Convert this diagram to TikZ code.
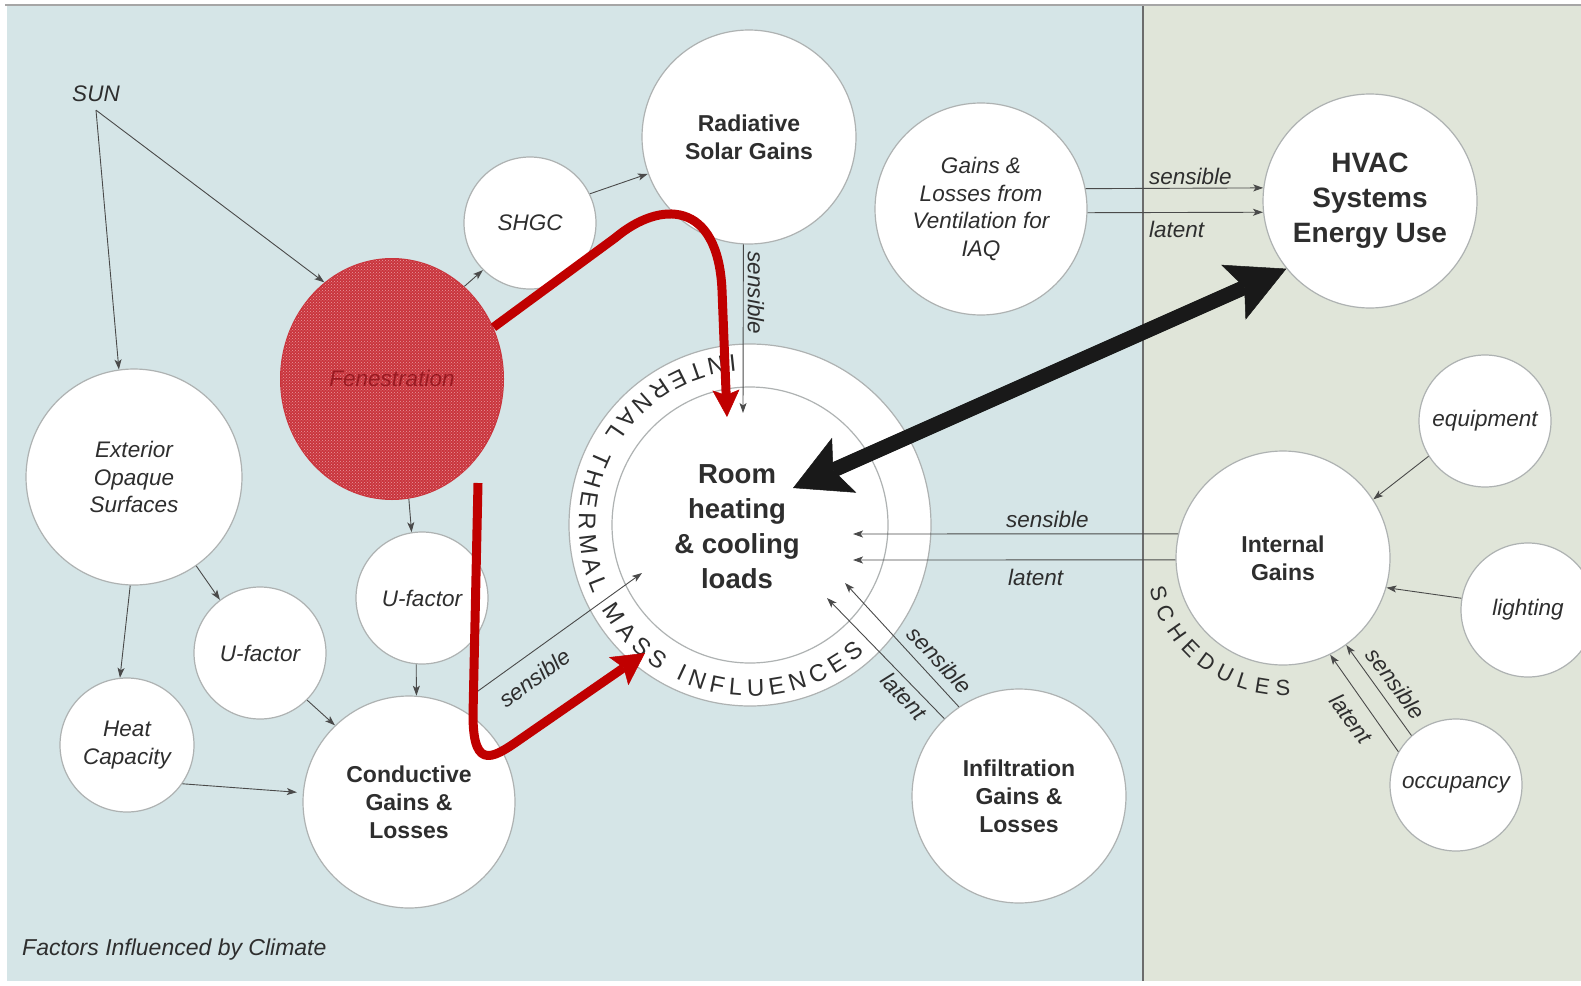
\documentclass[tikz,border=0pt]{standalone}
\usepackage{fontspec}
\setmainfont{Liberation Sans}
\usetikzlibrary{arrows.meta,shapes.geometric,patterns,decorations.text,calc}
\definecolor{bgL}{HTML}{D5E5E7}
\definecolor{bgR}{HTML}{E0E5D9}
\definecolor{txt}{HTML}{2E2E2E}
\definecolor{ln}{HTML}{4A4A4A}
\definecolor{cedge}{HTML}{AEB2B2}
\definecolor{redA}{HTML}{C00000}
\definecolor{fenfill}{HTML}{C9343C}
\definecolor{fendot}{HTML}{E99AA0}
\definecolor{fentext}{HTML}{9A1A22}
\begin{document}
\begin{tikzpicture}[x=1pt,y=1pt,
  circ/.style={circle, draw=cedge, line width=1.2pt, fill=white, inner sep=0pt, align=center, text=txt},
  it/.style={font=\fontsize{22.5}{27.5}\selectfont\itshape},
  bf/.style={font=\fontsize{23}{28}\selectfont\bfseries},
  big/.style={font=\fontsize{28}{35}\selectfont\bfseries},
  lbl/.style={text=txt, font=\fontsize{22.5}{26}\selectfont\itshape, inner sep=0pt},
  conn/.style={draw=ln, line width=0.9pt, -{Stealth[length=10pt,width=7pt,inset=2.5pt]}},
  redarrow/.style={draw=redA, line width=9pt, line join=round},
]
\useasboundingbox (0,0) rectangle (1581,-985);
\fill[white] (0,0) rectangle (1581,-985);
\fill[bgL] (7,-6) rectangle (1143,-981);
\fill[bgR] (1143,-6) rectangle (1581,-981);
\draw[gray!70, line width=2pt] (5,-5) -- (1581,-5);
\draw[gray!85!black, line width=1.5pt] (1143,-6) -- (1143,-981);

% ring
\node[circ, minimum size=362pt] (ring) at (750,-525) {};
\node[circle, draw=cedge, line width=1.2pt, minimum size=276pt, inner sep=0pt] (room) at (750,-525) {};
\node[text=txt, align=center, font=\fontsize{27.5}{35}\selectfont\bfseries] (roomtxt) at (737,-527) {Room\\heating\\\& cooling\\loads};
\path[decorate, decoration={text along path, text={|\fontsize{24}{24}\selectfont\color{txt}|INTERNAL THERMAL MASS INFLUENCES}, text align={fit to path}}]
  (ring.center) ++(95:171pt) arc[start angle=95, end angle=312, radius=171pt];

% circles
\node[circ, minimum size=214pt, bf] (rad) at (749,-137) {Radiative\\Solar Gains};
\node[circ, minimum size=132pt, it] (shgc) at (530,-223) {SHGC};
\node[circ, minimum size=212pt, it] (vent) at (981,-209) {Gains \&\\Losses from\\Ventilation for\\IAQ};
\node[circ, minimum size=214pt, big] (hvac) at (1370,-201) {HVAC\\Systems\\Energy Use};
\node[circ, minimum size=216pt, it] (ext) at (134,-477) {Exterior\\Opaque\\Surfaces};
\node[circ, minimum size=134pt, it] (heat) at (127,-745) {Heat\\Capacity};
\node[circ, minimum size=132pt, it] (uL) at (260,-653) {U-factor};
\node[circ, minimum size=132pt, it] (uR) at (422,-598) {U-factor};
\node[circ, minimum size=212pt, bf] (cond) at (409,-802) {Conductive\\Gains \&\\Losses};
\node[circ, minimum size=214pt, bf] (inf) at (1019,-796) {Infiltration\\Gains \&\\Losses};
\node[circ, minimum size=214pt, bf] (ig) at (1283,-558) {Internal\\Gains};
\node[circ, minimum size=132pt, it] (equip) at (1485,-421) {equipment};
\node[circ, minimum size=134pt, it] (light) at (1528,-610) {lighting};
\node[circ, minimum size=132pt, it] (occ) at (1456,-785) {occupancy};

% fenestration
\node[ellipse, fill=fenfill, minimum width=224pt, minimum height=242pt, inner sep=0pt] (fen) at (392,-379) {};
\fill[pattern=crosshatch dots, pattern color=fendot] (392,-379) ellipse[x radius=111pt, y radius=120pt];
\node[text=fentext, it] (fentxt) at (392,-378) {Fenestration};

\path[decorate, decoration={text along path, text={|\fontsize{22}{22}\selectfont\color{txt}|SCHEDULES}, text align={fit to path}}]
  (ig.center) ++(193:137pt) arc[start angle=193, end angle=273, radius=137pt];

% labels
\node[lbl, inner xsep=0pt, inner ysep=8pt] (sun) at (96,-94) {SUN};
\node[lbl, rotate=-90] (sRad) at (756,-293) {sensible};
\node[lbl, anchor=west] (sVent) at (1149,-176) {sensible};
\node[lbl, anchor=west] (lVent) at (1149,-229) {latent};
\node[lbl, anchor=west] (sIG) at (1006,-519) {sensible};
\node[lbl, anchor=west] (lIG) at (1008,-577) {latent};
\node[lbl, rotate=36] (sCond) at (535,-678) {sensible};
\node[lbl, rotate=-47] (sInf) at (940,-660) {sensible};
\node[lbl, rotate=-47] (lInf) at (904,-696) {latent};
\node[lbl, rotate=-53] (sOcc) at (1396,-684) {sensible};
\node[lbl, rotate=-53] (lOcc) at (1351,-719) {latent};
\node[lbl, anchor=west, font=\fontsize{23}{23}\selectfont\itshape] (fic) at (22,-950) {Factors Influenced by Climate};

% coordinates
\coordinate (radTip) at (743,-413);
\coordinate (igTipS) at (853,-534);
\coordinate (igTipL) at (853,-560);
\coordinate (infTipS) at (845,-583);
\coordinate (infTipL) at (827,-598);
\coordinate (condS) at (478,-691);
\coordinate (condTip) at (642,-573);
\coordinate (bkL) at (793,-488);
\coordinate (r1tip) at (727,-417);
\coordinate (r2start) at (478,-483);
\coordinate (r2tip) at (645,-653);

% connectors
\draw[conn] (sun.south) -- (fen.125);
\draw[conn] (sun.south) -- (ext.98);
\draw[conn] (fen.52) -- (shgc.225);
\draw[conn] (shgc.26) -- (rad.200);
\draw[conn] (rad.267) -- (radTip);
\draw[conn] (vent.11) -- (hvac.173);
\draw[conn] (vent.-2) -- (hvac.186);
\draw[conn] (ig.167) -- (igTipS);
\draw[conn] (ig.181) -- (igTipL);
\draw[conn] (inf.124) -- (infTipS);
\draw[conn] (inf.134) -- (infTipL);
\draw[conn] (condS) -- (condTip);
\draw[conn] (fen.-82) -- (uR.99);
\draw[conn] (uR.-95) -- (cond.86);
\draw[conn] (uL.-45) -- (cond.134);
\draw[conn] (ext.-55) -- (uL.127);
\draw[conn] (ext.-92) -- (heat.96);
\draw[conn, shorten >=6pt] (heat.-35) -- (cond.175);
\draw[conn] (equip.212) -- (ig.33);
\draw[conn] (light.170) -- (ig.-16);
\draw[conn] (occ.132) -- (ig.-54);
\draw[conn] (occ.150) -- (ig.-64);

% red arrows
\draw[redarrow, -{Stealth[length=27pt,width=27pt,inset=5pt,line width=0.5pt]}]
  (fen.27) -- (615,-238) .. controls (660,-200) and (718,-200) .. (722,-290) -- (r1tip);
\draw[redarrow, -{Stealth[length=32pt,width=34pt,inset=6pt,line width=0.5pt]}]
  (r2start) -- (473,-715) .. controls (473,-775) and (496,-756) .. (525,-736) -- (r2tip);

% black double arrow
\draw[line width=15pt, black!90,
  {Stealth[length=56pt,width=60pt,inset=12pt,line width=0.5pt]}-{Stealth[length=58pt,width=60pt,inset=12pt,line width=0.5pt]}]
  (bkL) -- (hvac.219);
\end{tikzpicture}
\end{document}
